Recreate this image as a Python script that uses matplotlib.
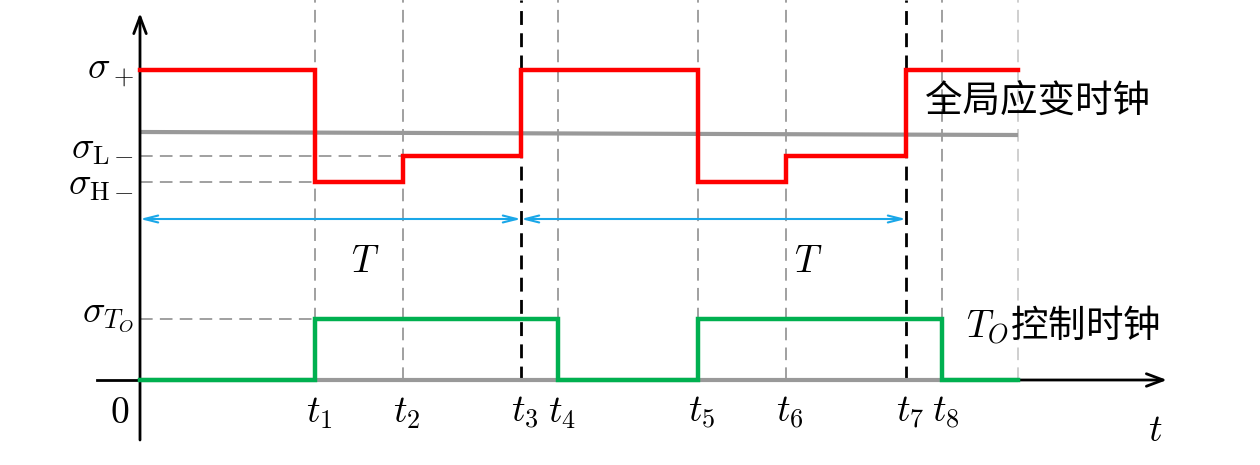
import matplotlib
matplotlib.use("Agg")
import matplotlib.pyplot as plt

plt.rcParams['mathtext.fontset'] = 'cm'
plt.rcParams['font.family'] = ['Noto Sans CJK SC', 'DejaVu Sans']

# time marks (pixel-like units from origin)
t_vals = [175, 263, 381, 418, 558, 646, 766, 802]
t_labels = [r'$t_1$', r'$t_2$', r'$t_3$', r'$t_4$', r'$t_5$', r'$t_6$', r'$t_7$', r'$t_8$']
t_end = 878

# levels
sig_plus = 310
sig_L = 224
sig_H = 198
sig_TO = 61
gray_level = [248, 245]

red_x = [0, 175, 175, 263, 263, 381, 381, 558, 558, 646, 646, 766, 766, t_end]
red_y = [sig_plus, sig_plus, sig_H, sig_H, sig_L, sig_L, sig_plus, sig_plus,
         sig_H, sig_H, sig_L, sig_L, sig_plus, sig_plus]
green_x = [0, 175, 175, 418, 418, 558, 558, 802, 802, t_end]
green_y = [0, 0, sig_TO, sig_TO, 0, 0, sig_TO, sig_TO, 0, 0]

fig = plt.figure(figsize=(12.6, 4.65), dpi=100)
ax = fig.add_axes([0, 0, 1, 1])
ax.set_xlim(-140, 1120)
ax.set_ylim(-85, 380)
ax.axis('off')

top = 380
# vertical dashed guide lines
for i, tv in enumerate(t_vals):
    if i in (2, 6):
        ax.plot([tv, tv], [0, top], color='black', lw=2.0, ls=(0, (5, 3)), zorder=2)
    else:
        ax.plot([tv, tv], [0, top], color='#999999', lw=1.3, ls=(0, (7, 4)), zorder=1)
ax.plot([t_end, t_end], [0, top], color='#cccccc', lw=1.3, ls=(0, (7, 4)), zorder=1)

# horizontal dashed guide lines
ax.plot([0, 263], [sig_L, sig_L], color='#999999', lw=1.3, ls=(0, (7, 4)), zorder=1)
ax.plot([0, 175], [sig_H, sig_H], color='#999999', lw=1.3, ls=(0, (7, 4)), zorder=1)
ax.plot([0, 175], [sig_TO, sig_TO], color='#999999', lw=1.3, ls=(0, (7, 4)), zorder=1)

# gray reference lines
ax.plot([0, t_end], gray_level, color='#999999', lw=3, zorder=3, solid_capstyle='butt')
ax.plot([0, t_end], [0, 0], color='#999999', lw=3, zorder=3, solid_capstyle='butt')

# axes
ax.plot([-43, 0], [0, 0], color='black', lw=2, zorder=3)
ax.annotate('', xy=(1027, 0), xytext=(t_end, 0),
            arrowprops=dict(arrowstyle='->,head_length=1.2,head_width=0.45', color='black', lw=2,
                            shrinkA=0, shrinkB=0), zorder=3)
ax.annotate('', xy=(0, 367), xytext=(0, -60),
            arrowprops=dict(arrowstyle='->,head_length=1.2,head_width=0.45', color='black', lw=2,
                            shrinkA=0, shrinkB=0), zorder=3)

# signals
ax.plot(red_x, red_y, color='#ff0000', lw=3.2, zorder=4, solid_joinstyle='miter')
ax.plot(green_x, green_y, color='#00b050', lw=3.2, zorder=4, solid_joinstyle='miter')

# period arrows
for a, b in [(0, 381), (381, 766)]:
    ax.annotate('', xy=(b, 161), xytext=(a, 161),
                arrowprops=dict(arrowstyle='<->,head_length=1.0,head_width=0.25', color='#1aa7e8',
                                lw=1.5, shrinkA=0, shrinkB=0), zorder=4)
ax.text(225, 118, r'$T$', fontsize=27, ha='center', va='center')
ax.text(668, 118, r'$T$', fontsize=27, ha='center', va='center')

# y labels
fs = 27
ax.text(-6, sig_plus, r'$\sigma_+$', fontsize=fs, ha='right', va='center')
ax.text(-6, sig_L + 8, r'$\sigma_{\mathrm{L}-}$', fontsize=fs, ha='right', va='center')
ax.text(-6, sig_H - 2, r'$\sigma_{\mathrm{H}-}$', fontsize=fs, ha='right', va='center')
ax.text(-6, sig_TO + 4, r'$\sigma_{T_O}$', fontsize=fs, ha='right', va='center')
ax.text(-20, -32, r'$0$', fontsize=fs, ha='center', va='center')

# t labels
for tv, lab in zip(t_vals, t_labels):
    ax.text(tv + 4, -32, lab, fontsize=fs, ha='center', va='center')
ax.text(1015, -50, r'$t$', fontsize=fs, ha='center', va='center')

# legends
ax.text(785, 278, '全局应变时钟', fontsize=27, ha='left', va='center')
ax.text(826, 55, r'$T_O$' + '控制时钟', fontsize=27, ha='left', va='center')

fig.savefig('out.png', dpi=100)
